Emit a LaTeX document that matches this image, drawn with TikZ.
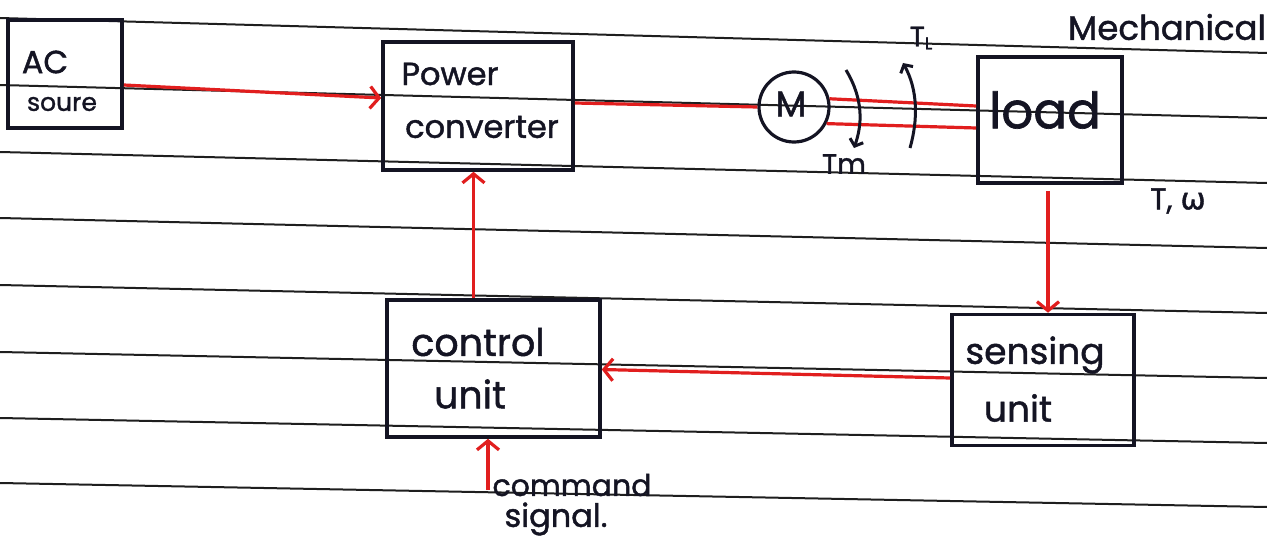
\documentclass[tikz,border=0pt]{standalone}
\usepackage{fontspec}
\setmainfont{Poppins}[FakeBold=1.3]
\newfontfamily\greekfont{DejaVu Sans}[FakeBold=1.3]
\usetikzlibrary{arrows.meta,calc}
\definecolor{pen}{RGB}{20,20,35}
\definecolor{redpen}{RGB}{225,30,30}
\definecolor{ruleink}{RGB}{30,30,30}
\newcommand{\fs}[1]{\fontsize{#1}{#1}\selectfont}
\begin{document}
\begin{tikzpicture}[x=1pt,y=-1pt,
  ruled/.style={draw=ruleink,line width=2pt},
  block/.style={draw=pen,line width=3.6pt,inner sep=0pt},
  txt/.style={text=pen,inner sep=0pt},
  redline/.style={draw=redpen,line width=3.2pt},
  redarrow/.style={redline,-{Straight Barb[length=9pt,width=22pt]}},
  torque/.style={draw=pen,line width=3pt,-{Straight Barb[length=6pt,width=14pt]}}]
\useasboundingbox[fill=white] (0,0) rectangle (1267,543);
% ruled paper
\foreach \l/\r in {18/53,85/118,152/183,218/248,285/313,352/378,418/443,483/507}
  \draw[ruled] (0,\l) -- (1267,\r);
% blocks
\node[block,minimum width=114pt,minimum height=108pt] (ac) at (65,74) {};
\node[txt,font=\fs{32}] (acl) at (45,62) {AC};
\node[txt,font=\fs{25}] (acs) at (62,104) {soure};
\node[block,minimum width=190pt,minimum height=128pt] (pc) at (478,106) {};
\node[txt,font=\fs{32}] (pcl1) at (450,74) {Power};
\node[txt,font=\fs{32}] (pcl2) at (482,127) {converter};
\node[draw=pen,line width=3.2pt,circle,minimum size=70pt,inner sep=0pt] (m) at (794,107) {};
\node[txt,font=\fs{36}] (ml) at (791,104) {M};
\node[block,minimum width=144pt,minimum height=126pt] (load) at (1050,120) {};
\node[txt,font=\fs{50}] (loadl) at (1045,110) {load};
\node[txt,font=\fs{34}] (mech) at (1167,27) {Mechanical};
\node[txt,font=\fs{30}] (tw) at (1178,201) {T, {\greekfont ω}};
\node[txt,font=\fs{28}] (tm) at (844,164) {Tm};
\node[txt,font=\fs{28}] (tl) at (921,38) {T\raisebox{-3pt}{\fs{17}L}};
\node[block,minimum width=182pt,minimum height=131pt] (sens) at (1043,380) {};
\node[txt,font=\fs{36}] (sensl1) at (1035,355) {sensing};
\node[txt,font=\fs{36}] (sensl2) at (1018,408) {unit};
\node[block,minimum width=213pt,minimum height=137pt] (ctrl) at (493.5,368.5) {};
\node[txt,font=\fs{38}] (ctrll1) at (478,342) {control};
\node[txt,font=\fs{38}] (ctrll2) at (470,394) {unit};
\node[txt,font=\fs{30}] (cmdl1) at (572,485) {command};
\node[txt,font=\fs{32}] (cmdl2) at (556,519) {signal.};
\coordinate (cmd) at (488,490);
% connectors
\draw[redarrow] ([yshift=-11pt]ac.east) -- ([yshift=8pt]pc.west);
\draw[redline] ([yshift=3pt]pc.east) -- (m.west);
\draw[redline] (m.13) -- ([yshift=14pt]load.west);
\draw[redline] (m.-27) -- ([yshift=-8pt]load.west);
\draw[redarrow,shorten <=6pt] ([xshift=-2pt]load.south) -- ([xshift=-2pt]load.south |- sens.north);
\draw[redarrow] ([yshift=2pt]sens.west) -- ([yshift=-1pt]ctrl.east);
\draw[redarrow] ([xshift=-20pt]ctrl.north) -- ([xshift=-20pt]ctrl.north |- pc.south);
\draw[redarrow] (cmd) -- (cmd |- ctrl.south);
% torque arrows
\draw[torque] (846,70) .. controls (864,100) and (862,125) .. (854,148);
\draw[torque] (910,148) .. controls (918,120) and (918,90) .. (903,63);
\end{tikzpicture}
\end{document}
